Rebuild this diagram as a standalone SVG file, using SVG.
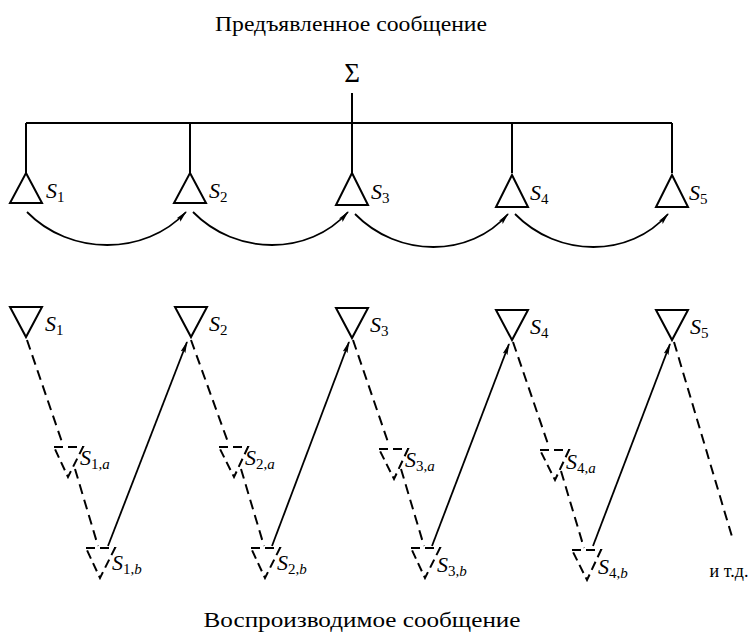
<svg xmlns="http://www.w3.org/2000/svg" width="749" height="632" viewBox="0 0 749 632">
<defs>
<marker id="ah" viewBox="0 0 12 6" refX="11" refY="3" markerWidth="12" markerHeight="6" markerUnits="userSpaceOnUse" orient="auto">
<path d="M0,0.5 L12,3 L0,5.5 L2,3 Z" fill="#000"/>
</marker>
</defs>
<style>
.ln{stroke:#000;stroke-width:2;fill:none}
.tri{stroke:#000;stroke-width:2;fill:#fff;stroke-linejoin:miter}
.dtri{stroke:#000;stroke-width:2;fill:#fff;stroke-dasharray:9,5}
.dash{stroke:#000;stroke-width:2;fill:none;stroke-dasharray:10,6}
.arr{stroke:#000;stroke-width:1.8;fill:none;marker-end:url(#ah)}
.t{font-family:"Liberation Serif",serif;fill:#000}
.lab{font-family:"Liberation Serif",serif;font-style:italic;font-size:22px;fill:#000}
.sub{font-size:15px;font-style:normal}
.subi{font-size:15px}
</style>
<g id="titles">
<text class="t" x="351" y="31" font-size="21" text-anchor="middle" textLength="272" lengthAdjust="spacingAndGlyphs">Предъявленное сообщение</text>
<text class="t" x="362" y="627" font-size="21" text-anchor="middle" textLength="317" lengthAdjust="spacingAndGlyphs">Воспроизводимое сообщение</text>
<text class="t" x="352" y="82" font-size="27" text-anchor="middle">Σ</text>
<text class="t" x="729" y="577" font-size="18" text-anchor="middle">и т.д.</text>
</g>
<g id="connectors">
<path class="ln" d="M352,93 V123 M26,123 H672 M26,123 V173 M190,123 V173 M352,123 V173 M512,123 V173 M672,123 V173"/>
<path class="arr" d="M27,212 C70,256 145,256 186,212"/>
<path class="arr" d="M193,212 C236,256 309,256 348,212"/>
<path class="arr" d="M355,214 C398,258 470,258 508,214"/>
<path class="arr" d="M515,214 C558,258 630,258 668,214"/>
<path class="dash" d="M27,340 L63,445 M75,469 L98,546"/>
<path class="dash" d="M191,340 L229,445 M241,469 L264,546"/>
<path class="dash" d="M353,340 L389,445 M401,469 L424,546"/>
<path class="dash" d="M513,342 L549,447 M561,471 L584,548"/>
<path class="dash" d="M674,342 L733,540"/>
<path class="arr" d="M108,546 L187,342"/>
<path class="arr" d="M272,546 L349,342"/>
<path class="arr" d="M432,546 L509,344"/>
<path class="arr" d="M593,546 L670,344"/>
</g>
<g id="top-S1"><path class="tri" d="M26,173 L42,203 L10,203 Z"/><text class="lab" x="46" y="198">S<tspan class="sub" dy="4">1</tspan></text></g>
<g id="top-S2"><path class="tri" d="M190,173 L206,203 L174,203 Z"/><text class="lab" x="209" y="198">S<tspan class="sub" dy="4">2</tspan></text></g>
<g id="top-S3"><path class="tri" d="M352,173 L368,205 L336,205 Z"/><text class="lab" x="371" y="199">S<tspan class="sub" dy="4">3</tspan></text></g>
<g id="top-S4"><path class="tri" d="M512,175 L528,207 L496,207 Z"/><text class="lab" x="530" y="200">S<tspan class="sub" dy="4">4</tspan></text></g>
<g id="top-S5"><path class="tri" d="M672,175 L688,207 L656,207 Z"/><text class="lab" x="689" y="200">S<tspan class="sub" dy="4">5</tspan></text></g>

<g id="bot-S1"><path class="tri" d="M10,307 L42,307 L26,337 Z"/><text class="lab" x="45" y="331">S<tspan class="sub" dy="4">1</tspan></text></g>
<g id="bot-S2"><path class="tri" d="M175,307 L207,307 L191,337 Z"/><text class="lab" x="209" y="331">S<tspan class="sub" dy="4">2</tspan></text></g>
<g id="bot-S3"><path class="tri" d="M336,308 L368,308 L352,338 Z"/><text class="lab" x="370" y="332">S<tspan class="sub" dy="4">3</tspan></text></g>
<g id="bot-S4"><path class="tri" d="M496,310 L528,310 L512,340 Z"/><text class="lab" x="530" y="334">S<tspan class="sub" dy="4">4</tspan></text></g>
<g id="bot-S5"><path class="tri" d="M656,310 L688,310 L672,340 Z"/><text class="lab" x="690" y="334">S<tspan class="sub" dy="4">5</tspan></text></g>

<g id="S1a"><path class="dtri" d="M54,447 L83,447 L68,477 Z"/><text class="lab" x="80" y="465">S<tspan class="sub" dy="4">1,</tspan><tspan class="subi">a</tspan></text></g>
<g id="S1b"><path class="dtri" d="M86,548 L115,548 L100,578 Z"/><text class="lab" x="112" y="570">S<tspan class="sub" dy="4">1,</tspan><tspan class="subi">b</tspan></text></g>
<g id="S2a"><path class="dtri" d="M219,447 L248,447 L234,477 Z"/><text class="lab" x="245" y="465">S<tspan class="sub" dy="4">2,</tspan><tspan class="subi">a</tspan></text></g>
<g id="S2b"><path class="dtri" d="M251,548 L280,548 L265,578 Z"/><text class="lab" x="277" y="570">S<tspan class="sub" dy="4">2,</tspan><tspan class="subi">b</tspan></text></g>
<g id="S3a"><path class="dtri" d="M379,449 L408,449 L394,479 Z"/><text class="lab" x="405" y="467">S<tspan class="sub" dy="4">3,</tspan><tspan class="subi">a</tspan></text></g>
<g id="S3b"><path class="dtri" d="M411,548 L440,548 L425,578 Z"/><text class="lab" x="437" y="572">S<tspan class="sub" dy="4">3,</tspan><tspan class="subi">b</tspan></text></g>
<g id="S4a"><path class="dtri" d="M540,450 L569,450 L555,480 Z"/><text class="lab" x="566" y="469">S<tspan class="sub" dy="4">4,</tspan><tspan class="subi">a</tspan></text></g>
<g id="S4b"><path class="dtri" d="M572,550 L601,550 L587,580 Z"/><text class="lab" x="598" y="574">S<tspan class="sub" dy="4">4,</tspan><tspan class="subi">b</tspan></text></g>
</svg>
